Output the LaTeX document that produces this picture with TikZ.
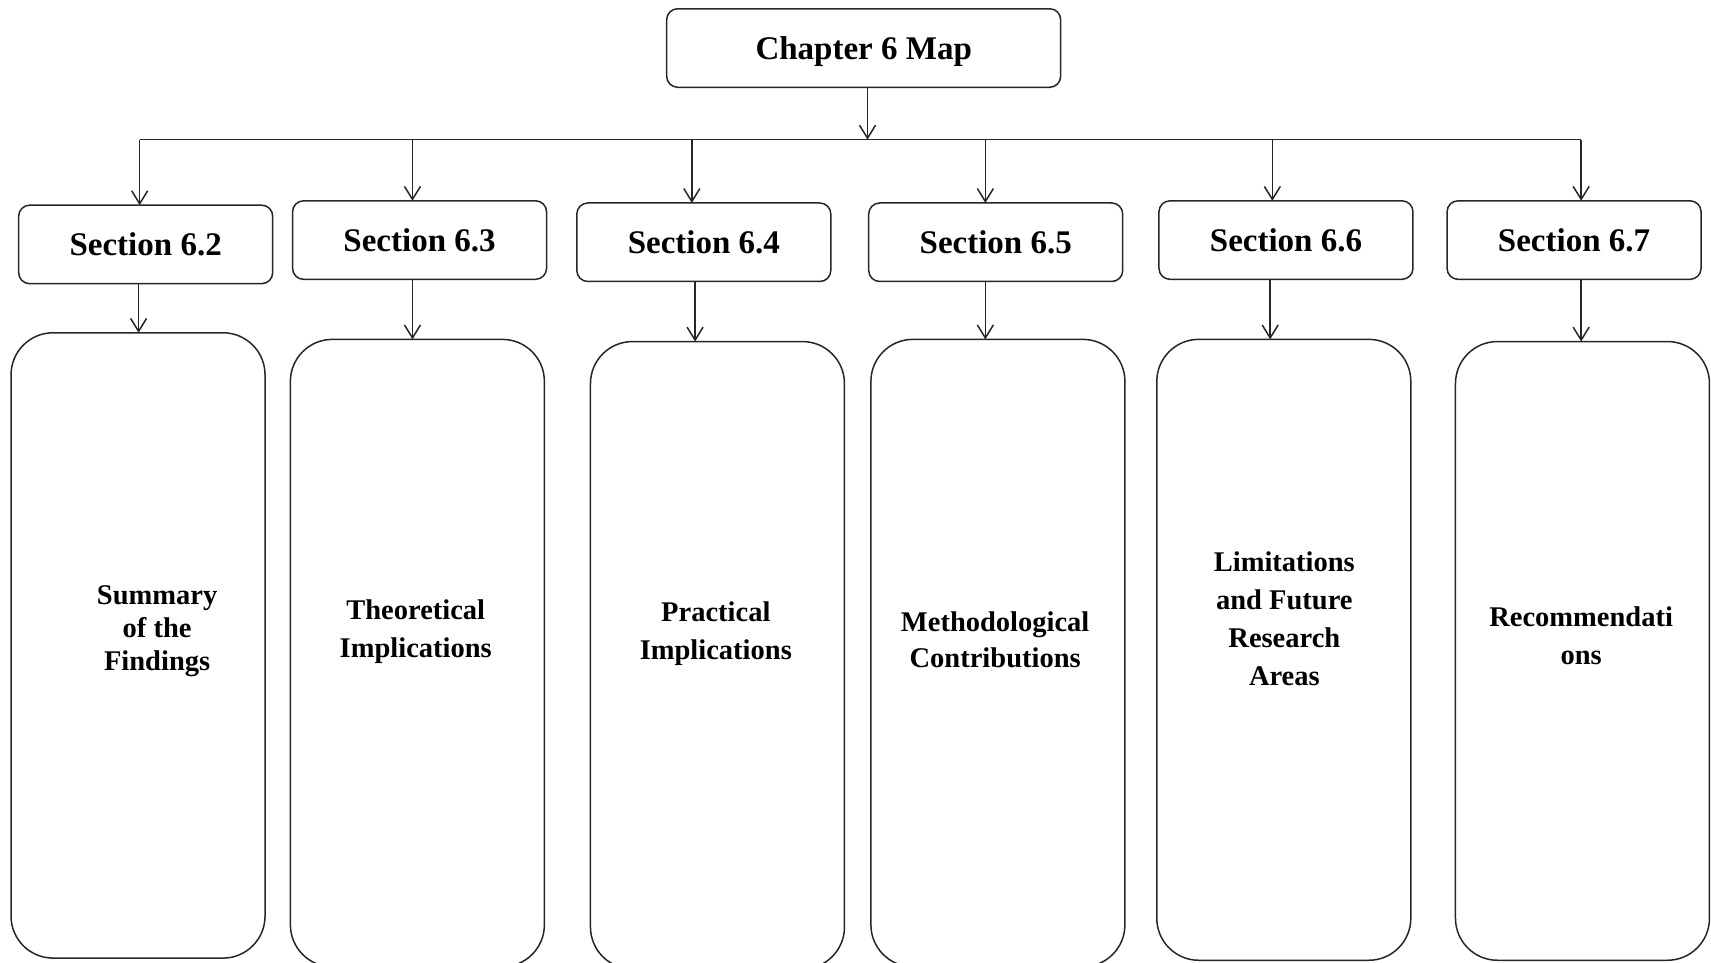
\documentclass[tikz,border=0pt]{standalone}
\usepackage{fontspec}
\setmainfont{Liberation Serif}
\usetikzlibrary{arrows.meta}
\begin{document}
\begin{tikzpicture}[x=1.0912pt,y=-1.0912pt,
  line/.style={draw=black!85, line width=1.5pt},
  arr/.style={line, -{Straight Barb[length=13pt,width=16pt,line width=1.5pt]}},
  headbox/.style={line, rounded corners=11pt, minimum width=254pt, minimum height=78.5pt,
    inner sep=0pt, outer sep=0pt, font=\fontsize{33}{38}\selectfont\bfseries},
  tallbox/.style={line, rounded corners=42pt, minimum width=254pt, inner sep=0pt, outer sep=0pt},
  lbl/.style={align=center, inner sep=0pt, font=\fontsize{28.5}{38}\selectfont\bfseries}]
\useasboundingbox (0,0) rectangle (1568,882);

% top node
\node[headbox, minimum width=394pt, text depth=0pt] (chap) at (791.5,44) {Chapter 6 Map};

% section headers
\node[headbox] (s2) at (133.5,224) {Section 6.2};
\node[headbox] (s3) at (384.5,220) {Section 6.3};
\node[headbox] (s4) at (645,222)   {Section 6.4};
\node[headbox] (s5) at (912.5,222) {Section 6.5};
\node[headbox] (s6) at (1178.5,220) {Section 6.6};
\node[headbox] (s7) at (1442.5,220) {Section 6.7};

% tall content boxes
\node[tallbox, minimum height=625.3pt] (b2) at (126.5,591.5) {};
\node[tallbox, minimum height=627.4pt] (b3) at (382.5,598.5) {};
\node[tallbox, minimum height=627.4pt] (b4) at (657.5,600.5) {};
\node[tallbox, minimum height=627.4pt] (b5) at (914.5,598.5) {};
\node[tallbox, minimum height=620.9pt] (b6) at (1176.5,595.5) {};
\node[tallbox, minimum height=618.7pt] (b7) at (1450.2,596.5) {};

% box texts
\node[lbl, font=\fontsize{28.5}{33}\selectfont\bfseries] (t2) at (144,578) {Summary\\of the\\Findings};
\node[lbl] (t3) at (381,579) {Theoretical\\Implications};
\node[lbl] (t4) at (656,581) {Practical\\Implications};
\node[lbl, font=\fontsize{28.5}{36}\selectfont\bfseries] (t5) at (912,586) {Methodological\\Contributions};
\node[lbl] (t6) at (1177,567) {Limitations\\and Future\\Research\\Areas};
\node[lbl] (t7) at (1449,583) {Recommendati\\ons};

% distribution bus
\coordinate (hub) at (795,128);
\coordinate (c2) at (128,128);
\coordinate (c3) at (378,128);
\coordinate (c4) at (634,128);
\coordinate (c5) at (903,128);
\coordinate (c6) at (1166,128);
\coordinate (c7) at (1449,128);
\draw[arr] (chap.south -| hub) -- (hub);
\draw[line] (c2) -- (c7);
\foreach \i in {2,...,7}
  \draw[arr] (c\i) -- (c\i |- s\i.north);

% section to content arrows
\coordinate (d2) at (127,0);
\coordinate (d3) at (378,0);
\coordinate (d4) at (637,0);
\coordinate (d5) at (903,0);
\coordinate (d6) at (1164,0);
\coordinate (d7) at (1449,0);
\foreach \i in {2,...,7}
  \draw[arr] (d\i |- s\i.south) -- (d\i |- b\i.north);
\end{tikzpicture}
\end{document}
